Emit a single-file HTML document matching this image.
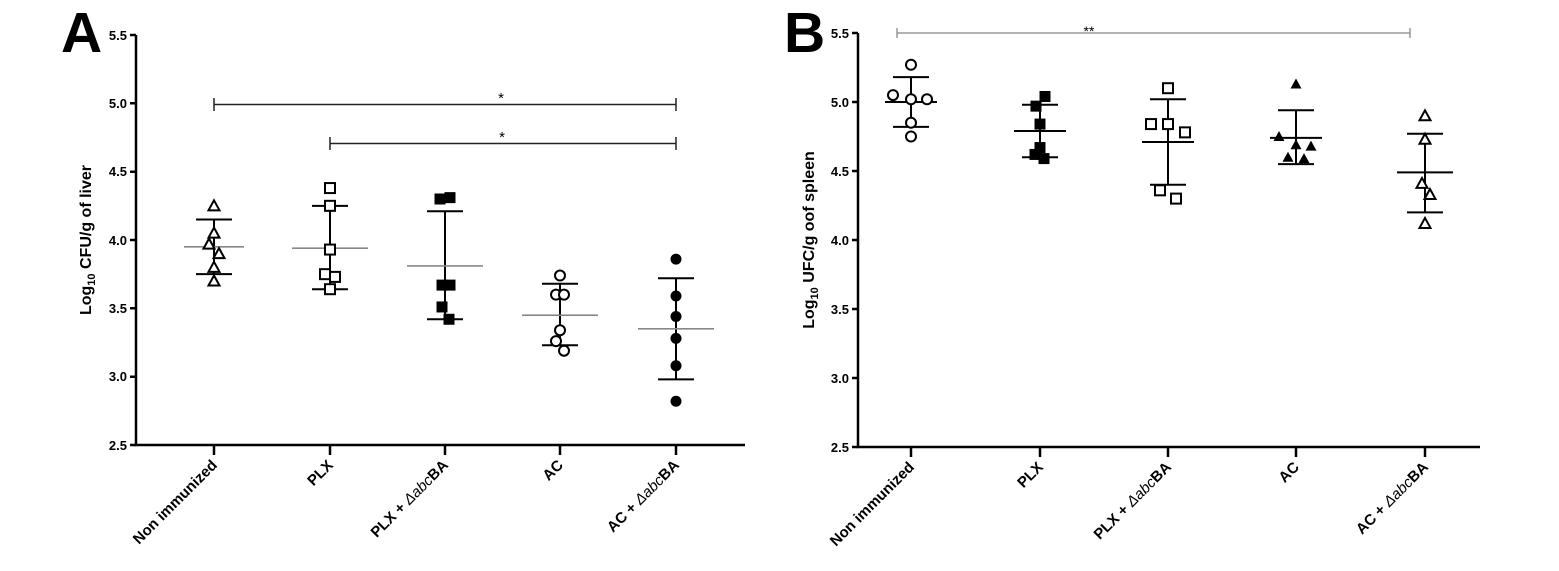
<!DOCTYPE html>
<html><head><meta charset="utf-8"><style>
body{margin:0;background:#fff;}
svg{display:block;font-family:"Liberation Sans",Arial,sans-serif;}
.t{font-size:13px;font-weight:bold;}
.xl{font-size:15px;font-weight:bold;}
</style></head><body>
<svg id="s" width="1559" height="571" viewBox="0 0 1559 571" xmlns="http://www.w3.org/2000/svg">
<text x="61" y="52" font-size="57" font-weight="bold">A</text>
<text x="784" y="52" font-size="57" font-weight="bold">B</text>
<g stroke="#000" stroke-width="2.5" fill="none">
<path d="M136,35 V445 H745"/>
<path d="M130,35H136 M130,103.3H136 M130,171.7H136 M130,240H136 M130,308.3H136 M130,376.7H136 M130,445H136"/>
<path d="M214,445V455 M330,445V455 M445,445V455 M560,445V455 M676,445V455"/>
<path d="M858,33 V447 H1480"/>
<path d="M852,33H858 M852,102H858 M852,171H858 M852,240H858 M852,309H858 M852,378H858 M852,447H858"/>
<path d="M911,447V457 M1040,447V457 M1168,447V457 M1296,447V457 M1425,447V457"/>
</g>
<g class="t" text-anchor="end">
<text x="127" y="40">5.5</text><text x="127" y="108">5.0</text><text x="127" y="176">4.5</text><text x="127" y="245">4.0</text><text x="127" y="313">3.5</text><text x="127" y="381">3.0</text><text x="127" y="450">2.5</text>
<text x="849" y="38">5.5</text><text x="849" y="107">5.0</text><text x="849" y="176">4.5</text><text x="849" y="245">4.0</text><text x="849" y="314">3.5</text><text x="849" y="383">3.0</text><text x="849" y="452">2.5</text>
</g>
<text transform="translate(91,240) rotate(-90)" text-anchor="middle" font-size="16" font-weight="bold">Log<tspan font-size="11" dy="4">10</tspan><tspan dy="-4"> CFU/g of liver</tspan></text>
<text transform="translate(814,240) rotate(-90)" text-anchor="middle" font-size="16" font-weight="bold">Log<tspan font-size="11" dy="4">10</tspan><tspan dy="-4"> UFC/g oof spleen</tspan></text>
<g class="xl" text-anchor="end">
<text transform="translate(218,466) rotate(-45)">Non immunized</text>
<text transform="translate(334,466) rotate(-45)">PLX</text>
<text transform="translate(449,466) rotate(-45)">PLX + <tspan font-style="italic" font-weight="normal">Δabc</tspan>BA</text>
<text transform="translate(564,466) rotate(-45)">AC</text>
<text transform="translate(680,466) rotate(-45)">AC + <tspan font-style="italic" font-weight="normal">Δabc</tspan>BA</text>
<text transform="translate(915,468) rotate(-45)">Non immunized</text>
<text transform="translate(1044,468) rotate(-45)">PLX</text>
<text transform="translate(1172,468) rotate(-45)">PLX + <tspan font-style="italic" font-weight="normal">Δabc</tspan>BA</text>
<text transform="translate(1300,468) rotate(-45)">AC</text>
<text transform="translate(1429,468) rotate(-45)">AC + <tspan font-style="italic" font-weight="normal">Δabc</tspan>BA</text>
</g>
<g stroke="#222" stroke-width="1.5">
<path d="M214,98V111 M214,104.5H676 M676,98V111"/>
<path d="M330,137V150 M330,143.5H676 M676,137V150"/>
</g>
<g stroke="#888" stroke-width="1.3"><path d="M897,28V38 M897,33H1410 M1410,28V38"/></g>
<text x="501" y="103" font-size="15" text-anchor="middle">*</text>
<text x="502" y="142" font-size="15" text-anchor="middle">*</text>
<text x="1089" y="36" font-size="14" text-anchor="middle">**</text>
<g id="d"></g>
</svg>
<script>
var g=document.getElementById('d'),h='';
function yA(v){return 445-(v-2.5)*136.67}
function yB(v){return 447-(v-2.5)*138}
function mk(t,x,y){
 var s=5.5;
 if(t=='to')return '<path d="M'+x+','+(y-s)+' L'+(x+s)+','+(y+s-1)+' L'+(x-s)+','+(y+s-1)+'Z" fill="#fff" stroke="#000" stroke-width="2"/>';
 if(t=='tf')return '<path d="M'+x+','+(y-s)+' L'+(x+s)+','+(y+s-1)+' L'+(x-s)+','+(y+s-1)+'Z" fill="#000"/>';
 if(t=='so')return '<rect x="'+(x-5)+'" y="'+(y-5)+'" width="10" height="10" fill="#fff" stroke="#000" stroke-width="2"/>';
 if(t=='sf')return '<rect x="'+(x-5.5)+'" y="'+(y-5.5)+'" width="11" height="11" fill="#000"/>';
 if(t=='co')return '<circle cx="'+x+'" cy="'+y+'" r="5" fill="#fff" stroke="#000" stroke-width="2"/>';
 return '<circle cx="'+x+'" cy="'+y+'" r="5.5" fill="#000"/>';
}
function grp(x,Y,t,pts,mean,lo,hi,gray,mw){
 var c=gray?'#888':'#000';
 h+='<path d="M'+x+','+Y(lo)+'V'+Y(hi)+' M'+(x-18)+','+Y(lo)+'H'+(x+18)+' M'+(x-18)+','+Y(hi)+'H'+(x+18)+'" stroke="#000" stroke-width="2" fill="none"/>';
 h+='<path d="M'+(x-mw)+','+Y(mean)+'H'+(x+mw)+'" stroke="'+c+'" stroke-width="'+(gray?1.6:2)+'"/>';
 pts.forEach(function(p){h+=mk(t,x+p[1],Y(p[0]))});
}
grp(214,yA,'to',[[4.25,0],[4.05,0],[3.97,-5],[3.9,5],[3.8,0],[3.7,0]],3.95,3.75,4.15,1,30);
grp(330,yA,'so',[[4.38,0],[4.25,0],[3.93,0],[3.75,-5],[3.73,5],[3.64,0]],3.94,3.64,4.25,1,38);
grp(445,yA,'sf',[[4.30,-5],[4.31,5],[3.67,-3],[3.67,5],[3.51,-3],[3.42,4]],3.81,3.42,4.21,1,38);
grp(560,yA,'co',[[3.74,0],[3.60,-4],[3.60,4],[3.34,0],[3.26,-4],[3.19,4]],3.45,3.23,3.68,1,38);
grp(676,yA,'cf',[[3.86,0],[3.59,0],[3.44,0],[3.28,0],[3.08,0],[2.82,0]],3.35,2.98,3.72,1,38);
grp(911,yB,'co',[[5.27,0],[5.05,-18],[5.02,0],[5.02,16],[4.85,0],[4.75,0]],5.0,4.82,5.18,0,26);
grp(1040,yB,'sf',[[5.04,5],[4.97,-4],[4.84,0],[4.67,0],[4.62,-5],[4.59,4]],4.79,4.6,4.98,0,26);
grp(1168,yB,'so',[[5.10,0],[4.84,-17],[4.84,0],[4.78,17],[4.36,-8],[4.30,8]],4.71,4.4,5.02,0,26);
grp(1296,yB,'tf',[[5.13,0],[4.75,-17],[4.69,0],[4.68,15],[4.60,-8],[4.59,8]],4.74,4.55,4.94,0,26);
grp(1425,yB,'to',[[4.9,0],[4.73,0],[4.41,-3],[4.33,5],[4.12,0]],4.49,4.2,4.77,0,28);
g.innerHTML=h;
</script>
</body></html>
